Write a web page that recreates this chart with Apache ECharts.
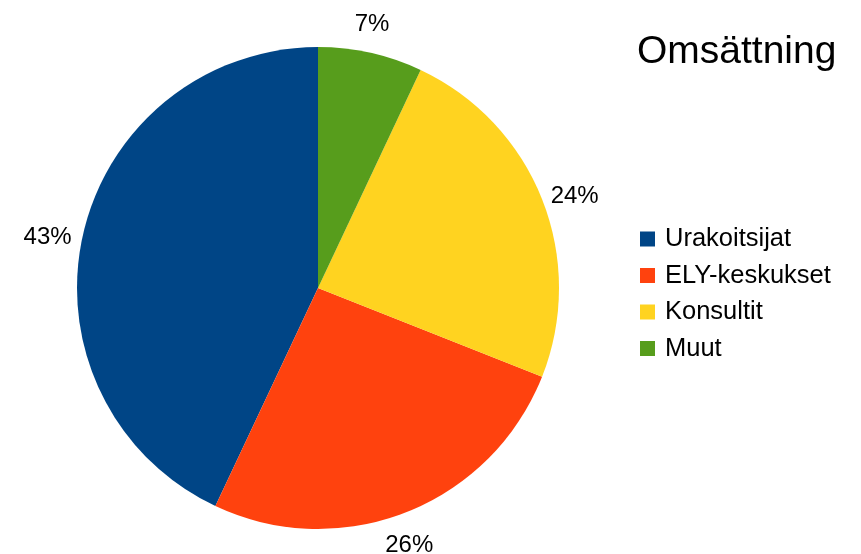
<!DOCTYPE html>
<html><head><meta charset="utf-8">
<script src="https://cdn.jsdelivr.net/npm/echarts@6/dist/echarts.min.js"></script>
<style>html,body{margin:0;padding:0;background:#fff}#c{width:861px;height:554px}</style>
</head><body><div id="c"></div>
<script>
const categories = ["Urakoitsijat", "ELY-keskukset", "Konsultit", "Muut"];
const values = [43, 26, 24, 7];
const colors = ["#004586", "#ff420e", "#ffd320", "#579d1c"];
const titleText = "Omsättning";

// label nudges (styling only)
const labelOffsets = [[-2, 9], [-10, 2], [1, 10], [-6, 5]];

const font = "'Liberation Sans', Arial, sans-serif";
const data = categories.map((n, i) => ({ name: n, value: values[i], itemStyle: { color: colors[i] } }));
const labelData = categories.map((n, i) => ({ name: n, value: values[i], label: { offset: labelOffsets[i] } }));

const chart = echarts.init(document.getElementById('c'), null, { renderer: 'canvas' });
chart.setOption({
  animation: false,
  backgroundColor: '#ffffff',
  title: {
    text: titleText, left: 632, top: 28,
    textStyle: { fontFamily: font, fontSize: 39, fontWeight: 'normal', color: '#000' }
  },
  legend: {
    orient: 'vertical', left: 635, top: 221,
    itemWidth: 15, itemHeight: 15, itemGap: 10.5,
    icon: 'rect',
    data: categories.map((n, i) => ({ name: n, itemStyle: { color: colors[i] } })),
    textStyle: { fontFamily: font, fontSize: 25.5, color: '#000', padding: [0, 0, 0, 5] }
  },
  series: [
    {
      type: 'pie', center: [318, 288], radius: 241,
      startAngle: 90, clockwise: false,
      silent: true,
      label: { show: false }, labelLine: { show: false },
      itemStyle: { borderWidth: 0 },
      data: data
    },
    {
      type: 'pie', center: [318, 288], radius: [262, 282],
      startAngle: 90, clockwise: false,
      silent: true,
      itemStyle: { color: 'rgba(0,0,0,0)' },
      label: {
        show: true, position: 'inside', formatter: '{c}%',
        fontFamily: font, fontSize: 24, color: '#000'
      },
      labelLine: { show: false },
      data: labelData
    }
  ]
});
</script></body></html>
